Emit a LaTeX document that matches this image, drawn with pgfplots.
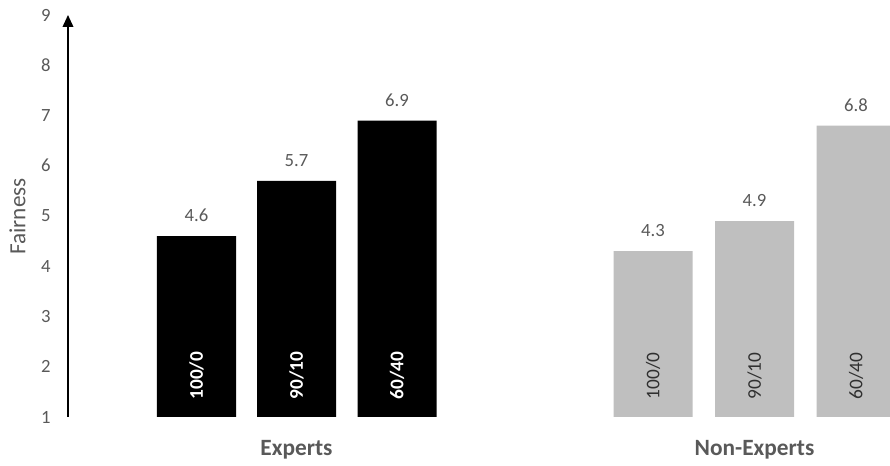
\documentclass[border=0pt]{standalone}
\usepackage{fontspec}
\setmainfont{Carlito}
\usepackage{pgfplots}
\usepackage{pgfplotstable}
\pgfplotsset{compat=1.18}
\usetikzlibrary{arrows.meta}
\definecolor{txt}{HTML}{595959}
\definecolor{lgray}{HTML}{BFBFBF}
\definecolor{dtxt}{HTML}{303030}

\pgfplotstableread{
x y ly lab
1.965 4.6 1.82 100/0
2.965 5.7 1.82 90/10
3.970 6.9 1.82 60/40
}\experts
\pgfplotstableread{
x y ly lab
6.530 4.3 1.82 100/0
7.545 4.9 1.82 90/10
8.560 6.8 1.82 60/40
}\nonexperts

\begin{document}
\begin{tikzpicture}
\begin{axis}[
  x=75pt, y=37.6875pt,
  xmin=0.68, xmax=8.90, ymin=1, ymax=9,
  clip=true,
  axis y line=left,
  axis x line=bottom,
  x axis line style={draw=none,-},
  y axis line style={-{Triangle[length=9pt,width=8pt]}, line width=1.2pt, black},
  ytick={1,2,...,9},
  xtick={2.965,7.545},
  xticklabels={Experts,Non-Experts},
  major tick length=0pt,
  tick style={draw=none},
  /pgf/number format/assume math mode=true,
  yticklabel style={text=txt, font=\fontsize{14}{15}\selectfont, xshift=-9.5pt},
  xticklabel style={text=txt, font=\fontsize{17.5}{19}\selectfont\bfseries, anchor=base, yshift=-28.6pt},
  ylabel={Fairness},
  ylabel style={at={(axis description cs:-0.0614,0.499)}, anchor=center, text=txt, font=\fontsize{17.4}{19}\selectfont},
]
\addplot[ybar, bar width=0.79, fill=black, draw=none,
  nodes near coords,
  nodes near coords style={anchor=base, yshift=10.7pt, text=txt, font=\fontsize{14}{15}\selectfont,
    /pgf/number format/.cd, fixed, precision=1, fixed zerofill}]
  table[x=x, y=y] {\experts};
\addplot[ybar, bar width=0.79, fill=lgray, draw=none,
  nodes near coords,
  nodes near coords style={anchor=base, yshift=10.7pt, text=txt, font=\fontsize{14}{15}\selectfont,
    /pgf/number format/.cd, fixed, precision=1, fixed zerofill}]
  table[x=x, y=y] {\nonexperts};
\addplot[draw=none, mark=none, nodes near coords, point meta=explicit symbolic,
  nodes near coords style={rotate=90, anchor=center, text=white, font=\fontsize{14.5}{16}\selectfont\bfseries}]
  table[x=x, y=ly, meta=lab] {\experts};
\addplot[draw=none, mark=none, nodes near coords, point meta=explicit symbolic,
  nodes near coords style={rotate=90, anchor=center, text=dtxt, font=\fontsize{14.5}{16}\selectfont}]
  table[x=x, y=ly, meta=lab] {\nonexperts};
\coordinate (bbl) at (axis cs:0,0.025);
\coordinate (btr) at (axis cs:8.90,9.2985);
\end{axis}
\pgfresetboundingbox
\path[use as bounding box] (bbl) rectangle (btr);
\end{tikzpicture}
\end{document}
